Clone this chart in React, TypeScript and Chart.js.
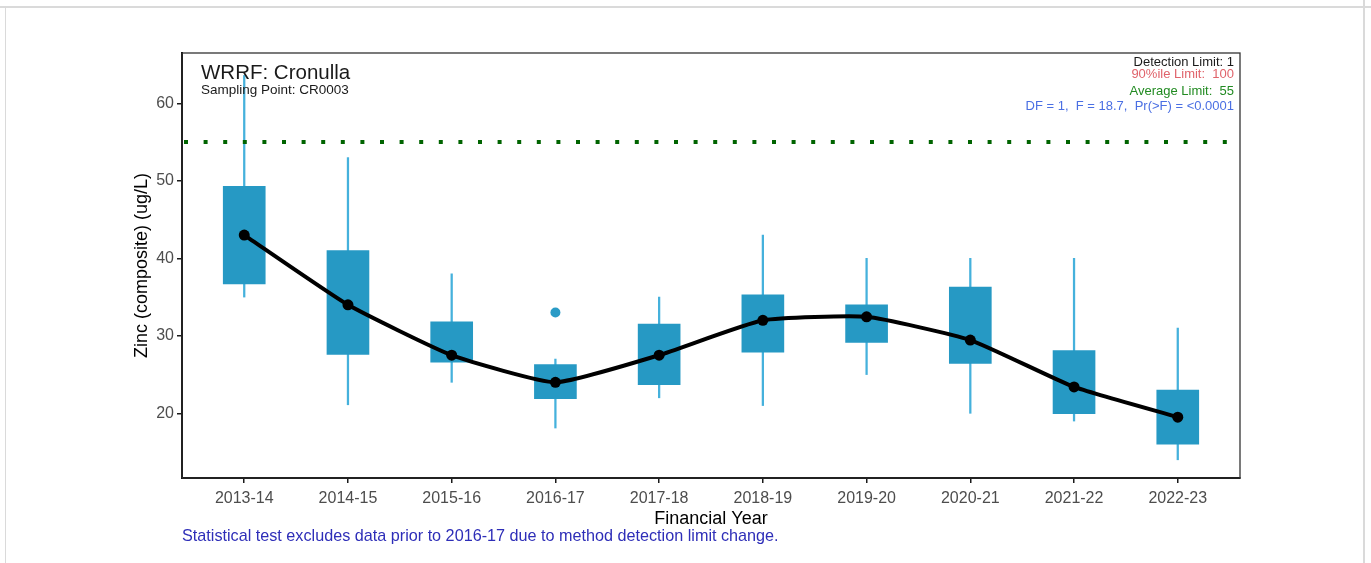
import React, { useEffect, useRef } from "react";
import { Chart, registerables } from "chart.js";

Chart.register(...registerables);

// ---- data ----
const categories = ["2013-14", "2014-15", "2015-16", "2016-17", "2017-18", "2018-19", "2019-20", "2020-21", "2021-22", "2022-23"];
const whiskerLow = [35.0, 21.1, 24.0, 18.1, 22.0, 21.0, 25.0, 20.0, 19.0, 14.0];
const boxLow = [36.7, 27.6, 26.6, 21.9, 23.7, 27.9, 29.15, 26.45, 19.95, 16.0];
const boxHigh = [49.3, 41.0, 31.8, 26.3, 31.5, 35.3, 34.0, 36.3, 28.1, 23.0];
const whiskerHigh = [63.6, 53.0, 38.0, 27.0, 35.0, 43.0, 40.0, 40.0, 40.0, 31.0];
const trendValues = [43.0, 34.0, 27.5, 24.0, 27.5, 32.0, 32.45, 29.45, 23.4, 19.5];
const outlierYears = ["2016-17"];
const outlierValues = [33.0];
const yTicks = [20, 30, 40, 50, 60];
const averageLimit = 55;
const yMin = 11.65;
const yMax = 66.5;
const xPad = 0.6;

const titleText = "WRRF: Cronulla";
const subtitleText = "Sampling Point: CR0003";
const infoLines = [
  { text: "Detection Limit: 1", color: "#1a1a1a" },
  { text: "90%ile Limit:  100", color: "#e0636b" },
  { text: "Average Limit:  55", color: "#228b22" },
  { text: "DF = 1,  F = 18.7,  Pr(>F) = <0.0001", color: "#4a6fe3" },
];
const captionText = "Statistical test excludes data prior to 2016-17 due to method detection limit change.";

const FONT = '"Liberation Sans", Arial, Helvetica, sans-serif';

const decorPlugin = {
  id: "decor",
  afterDraw(chart: any) {
    const { ctx, chartArea } = chart;
    const { left, top, right, bottom } = chartArea;
    ctx.save();
    // panel frame
    ctx.strokeStyle = "#333333";
    ctx.lineWidth = 1.3;
    ctx.strokeRect(left, top, right - left, bottom - top);
    // title & subtitle
    ctx.fillStyle = "#1a1a1a";
    ctx.textAlign = "left";
    ctx.textBaseline = "alphabetic";
    ctx.font = `20.5px ${FONT}`;
    ctx.fillText(titleText, left + 19, top + 25.5);
    ctx.font = `13.5px ${FONT}`;
    ctx.fillText(subtitleText, left + 19, top + 40.5);
    // info lines
    ctx.textAlign = "right";
    ctx.font = `13px ${FONT}`;
    const baselines = [13, 25.3, 42.3, 57];
    infoLines.forEach((l, i) => {
      ctx.fillStyle = l.color;
      ctx.fillText(l.text, right - 6, top + baselines[i]);
    });
    // caption
    ctx.textAlign = "left";
    ctx.fillStyle = "#2e2eb8";
    ctx.font = `16.2px ${FONT}`;
    ctx.fillText(captionText, left, bottom + 62.5);
    ctx.restore();
  },
};

export default function App() {
  const ref = useRef<HTMLCanvasElement>(null);

  useEffect(() => {
    const canvas = ref.current!;
    const idx = (c: string) => categories.indexOf(c) + 1;
    const chart = new Chart(canvas, {
      type: "bar",
      data: {
        datasets: [
          {
            type: "line",
            label: "trend",
            data: categories.map((c, i) => ({ x: idx(c), y: trendValues[i] })),
            borderColor: "#000000",
            backgroundColor: "#000000",
            borderWidth: 4,
            pointRadius: 5.5,
            pointBackgroundColor: "#000000",
            pointBorderWidth: 0,
            tension: 0.15,
            order: 1,
          } as any,
          {
            type: "line",
            label: "average limit",
            data: [
              { x: 1 - xPad, y: averageLimit },
              { x: categories.length + xPad, y: averageLimit },
            ],
            borderColor: "#006400",
            borderWidth: 4,
            borderDash: [4, 15.6],
            borderDashOffset: -2,
            pointRadius: 0,
            order: 2,
          } as any,
          {
            type: "scatter",
            label: "outliers",
            data: outlierYears.map((c, i) => ({ x: idx(c), y: outlierValues[i] })),
            backgroundColor: "#2a9bc6",
            borderWidth: 0,
            pointRadius: 5,
            order: 3,
          } as any,
          {
            type: "bar",
            label: "box",
            data: categories.map((c, i) => ({ x: idx(c), y: [boxLow[i], boxHigh[i]] })),
            backgroundColor: "#2699c4",
            borderWidth: 0,
            barThickness: 42,
            grouped: false,
            order: 4,
          } as any,
          {
            type: "bar",
            label: "whisker",
            data: categories.map((c, i) => ({ x: idx(c), y: [whiskerLow[i], whiskerHigh[i]] })),
            backgroundColor: "#45b1dc",
            borderWidth: 0,
            barThickness: 1.6,
            grouped: false,
            order: 5,
          } as any,
        ],
      },
      options: {
        responsive: false,
        animation: false,
        events: [],
        layout: { padding: { top: 53, right: 131, left: 0, bottom: 0 } },
        plugins: { legend: { display: false }, tooltip: { enabled: false }, title: { display: false } },
        scales: {
          x: {
            type: "linear",
            offset: false,
            min: 1 - xPad,
            max: categories.length + xPad,
            afterBuildTicks: (scale: any) => {
              scale.ticks = categories.map((c) => ({ value: idx(c) }));
            },
            afterFit: (scale: any) => {
              scale.height = 85;
            },
            ticks: {
              callback: (v: any) => categories[Math.round(v) - 1] ?? "",
              color: "#4d4d4d",
              font: { family: FONT, size: 16 },
              padding: 6,
              maxRotation: 0,
              autoSkip: false,
            },
            grid: { offset: false, drawOnChartArea: false, drawTicks: true, tickLength: 5, color: "#1a1a1a", lineWidth: 1.5 },
            border: { display: true, color: "#000000", width: 2 },
            title: {
              display: true,
              text: "Financial Year",
              color: "#000000",
              font: { family: FONT, size: 18 },
              padding: { top: 0, bottom: 33.2 },
            },
          },
          y: {
            type: "linear",
            min: yMin,
            max: yMax,
            afterBuildTicks: (scale: any) => {
              scale.ticks = yTicks.map((v) => ({ value: v }));
            },
            afterFit: (scale: any) => {
              scale.width = 182;
            },
            ticks: {
              color: "#4d4d4d",
              font: { family: FONT, size: 16 },
              padding: 3,
            },
            grid: { drawOnChartArea: false, drawTicks: true, tickLength: 5, color: "#1a1a1a", lineWidth: 1.5 },
            border: { display: true, color: "#000000", width: 2 },
            title: {
              display: true,
              text: "Zinc (composite) (ug/L)",
              color: "#000000",
              font: { family: FONT, size: 18 },
              padding: { top: 131.2, bottom: 0 },
            },
          },
        },
      } as any,
      plugins: [decorPlugin],
    });
    return () => chart.destroy();
  }, []);

  return (
    <div style={{ position: "fixed", left: 0, top: 0, width: 1371, height: 563, background: "#ffffff", overflow: "hidden" }}>
      <div style={{ position: "absolute", left: 0, top: 6, width: 1371, height: 1.5, background: "#dadada" }} />
      <div style={{ position: "absolute", left: 4.5, top: 6, width: 1.5, height: 557, background: "#dadada" }} />
      <div style={{ position: "absolute", left: 1363, top: 0, width: 1.5, height: 563, background: "#dadada" }} />
      <canvas ref={ref} width={1371} height={563} style={{ position: "absolute", left: 0, top: 0 }} />
    </div>
  );
}
